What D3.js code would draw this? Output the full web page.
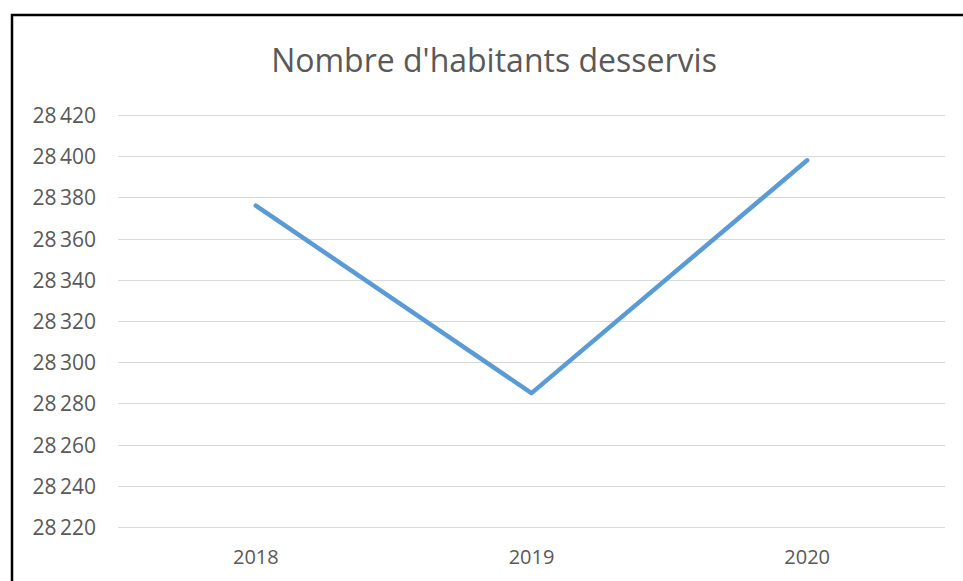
<!DOCTYPE html>
<html lang="fr">
<head>
    <meta charset="UTF-8">
    <title>Nombre d'habitants desservis</title>
    <script src="https://d3js.org/d3.v7.min.js"></script>
    <style>
        body { margin: 0; background: #fff; }
        .title { font-family: "Open Sans", sans-serif; font-size: 32px; fill: #595959; }
        .tick text { font-family: "Open Sans", sans-serif; fill: #595959; }
        .y-axis .tick text { font-size: 21px; }
        .x-axis .tick text { font-size: 20px; }
        .grid line { stroke: #d9d9d9; stroke-width: 1px; }
        .line { fill: none; stroke: #5b9bd5; stroke-width: 4.5px; stroke-linecap: round; stroke-linejoin: round; }
    </style>
</head>
<body>
    <div id="chart"></div>

    <script>
        // Données
        const annees = ["2018", "2019", "2020"];
        const habitants = [28376, 28285, 28398];
        const yTicks = [28220, 28240, 28260, 28280, 28300, 28320, 28340, 28360, 28380, 28400, 28420];

        const W = 963, H = 581;
        const plot = {left: 118, right: 945, top: 115, bottom: 527};

        const svg = d3.select("#chart")
            .append("svg")
            .attr("width", W)
            .attr("height", H);

        // Cadre
        svg.append("rect")
            .attr("x", 12).attr("y", 15)
            .attr("width", W + 10).attr("height", H + 10)
            .attr("fill", "#fff")
            .attr("stroke", "#000")
            .attr("stroke-width", 2.5);

        // Échelles
        const x = d3.scaleBand().domain(annees).range([plot.left, plot.right]);
        const y = d3.scaleLinear().domain([28220, 28420]).range([plot.bottom, plot.top]);

        // Grille
        svg.append("g")
            .attr("class", "grid")
            .selectAll("line")
            .data(yTicks)
            .join("line")
            .attr("x1", plot.left).attr("x2", plot.right)
            .attr("y1", d => Math.round(y(d)) + 0.5)
            .attr("y2", d => Math.round(y(d)) + 0.5);

        // Axe Y
        const fmt = d => d3.format(",")(d).replace(",", "\u2009");
        svg.append("g")
            .attr("class", "y-axis")
            .attr("transform", `translate(${plot.left - 22},0)`)
            .call(d3.axisLeft(y).tickValues(yTicks).tickFormat(fmt).tickSize(0).tickPadding(0))
            .call(g => g.select(".domain").remove())
            .selectAll("text").attr("dy", "0.36em");

        // Axe X
        svg.append("g")
            .attr("class", "x-axis")
            .attr("transform", `translate(0,${plot.bottom + 37})`)
            .call(d3.axisBottom(x).tickSize(0).tickPadding(0))
            .call(g => g.select(".domain").remove())
            .selectAll("text").attr("y", 0).attr("dy", "0");

        // Titre
        svg.append("text")
            .attr("class", "title")
            .attr("x", 494).attr("y", 72)
            .attr("text-anchor", "middle")
            .text("Nombre d'habitants desservis");

        // Ligne
        const line = d3.line()
            .x((d, i) => x(annees[i]) + x.bandwidth() / 2)
            .y(d => y(d));

        svg.append("path")
            .datum(habitants)
            .attr("class", "line")
            .attr("d", line);
    </script>
</body>
</html>
